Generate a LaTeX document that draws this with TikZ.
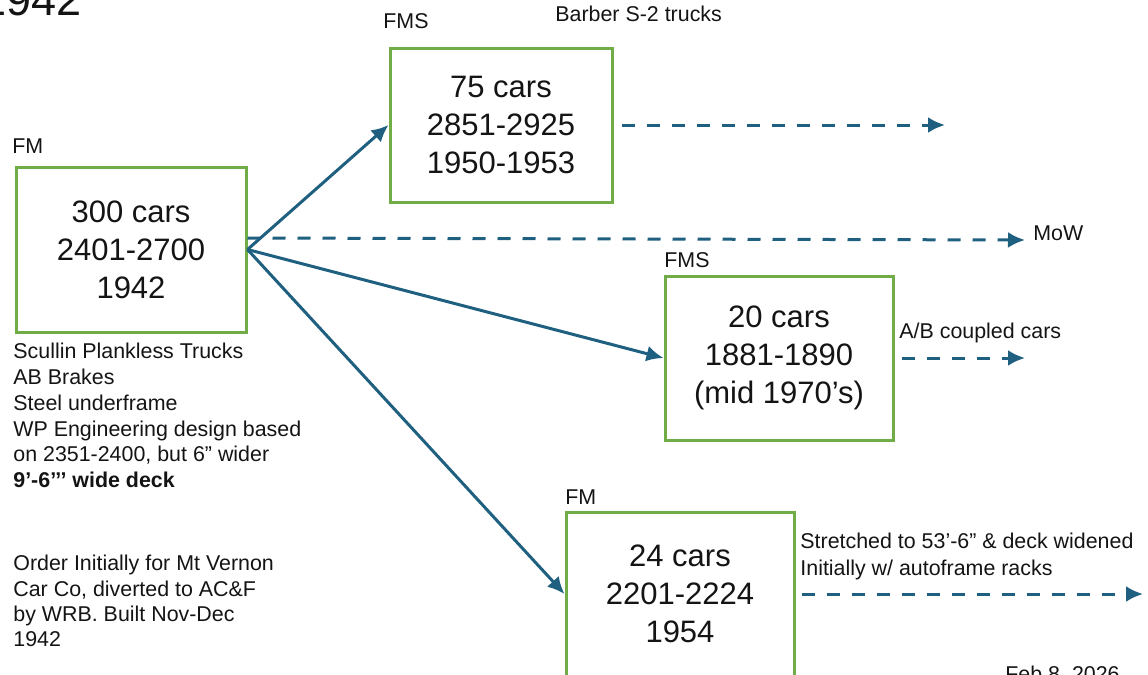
\documentclass[tikz,border=0pt]{standalone}
\usepackage{fontspec}
\setmainfont{Liberation Sans}
\usetikzlibrary{arrows.meta}
\definecolor{boxgreen}{RGB}{112,173,71}
\definecolor{arrowblue}{RGB}{31,96,128}
\definecolor{ink}{RGB}{20,20,20}
\begin{document}
\begin{tikzpicture}[x=0.5pt,y=-0.5pt,
  carbox/.style={draw=boxgreen, line width=1.5pt, align=center, inner sep=0pt, text=ink,
    font=\fontsize{15.5}{19}\selectfont},
  lbl/.style={anchor=base west, inner sep=0pt, text=ink, font=\fontsize{10.7}{12.9}\selectfont},
  flow/.style={draw=arrowblue, line width=1.5pt, -{Latex[length=8.5pt,width=8pt]}},
  dflow/.style={flow, dash pattern=on 6.5pt off 6pt}]
\path[use as bounding box] (0,0) rectangle (1148,675);
\clip (0,0) rectangle (1148,675);

% boxes
\node[carbox, minimum width=115pt, minimum height=82.5pt] (A) at (131,249.5) {300 cars\\2401-2700\\1942};
\node[carbox, minimum width=111pt, minimum height=77pt] (B) at (501,125) {75 cars\\2851-2925\\1950-1953};
\node[carbox, minimum width=114pt, minimum height=82pt] (C) at (779,358) {20 cars\\1881-1890\\(mid 1970’s)};
\node[carbox, minimum width=114pt, minimum height=82pt] (D) at (680,594) {24 cars\\2201-2224\\1954};

% end points
\coordinate (mowend) at (1025,240);
\coordinate (bend) at (945,125);
\coordinate (cend) at (1025,358);
\coordinate (dend) at (1143,594);

% connectors
\draw[flow] (A.east) -- (B.west);
\draw[flow] (A.east) -- (C.west);
\draw[flow] (A.east) -- (D.west);
\draw[dflow] ([yshift=5.75pt]A.east) -- (mowend);
\draw[dflow] ([xshift=4pt]B.east) -- (bend);
\draw[dflow] ([xshift=3.5pt]C.east) -- (cend);
\draw[dflow] ([xshift=3pt]D.east) -- (dend);

% labels
\node[lbl, font=\fontsize{22.5}{26}\selectfont] (title) at (-19,15) {1942};
\node[lbl] (fmA) at (12,153) {FM};
\node[lbl] (fmsB) at (383,28) {FMS};
\node[lbl] (barber) at (555,21) {Barber S-2 trucks};
\node[lbl] (fmsC) at (664,267) {FMS};
\node[lbl] (fmD) at (565,504) {FM};
\node[lbl] (ab) at (899,338) {A/B coupled cars};
\node[lbl] (mow) at (1033,240) {MoW};
\node[lbl] (str1) at (800,548) {Stretched to 53’-6” \& deck widened};
\node[lbl] (str2) at (800,575) {Initially w/ autoframe racks};

\node[lbl] (n1) at (13,358) {Scullin Plankless Trucks};
\node[lbl] (n2) at (13,384) {AB Brakes};
\node[lbl] (n3) at (13,410) {Steel underframe};
\node[lbl] (n4) at (13,436) {WP Engineering design based};
\node[lbl] (n5) at (13,461) {on 2351-2400, but 6” wider};
\node[lbl, font=\fontsize{10.7}{12.9}\selectfont\bfseries] (n6) at (13,487) {9’-6’’’ wide deck};

\node[lbl] (o1) at (13,570) {Order Initially for Mt Vernon};
\node[lbl] (o2) at (13,596) {Car Co, diverted to AC\&F};
\node[lbl] (o3) at (13,621) {by WRB. Built Nov-Dec};
\node[lbl] (o4) at (13,646) {1942};

\node[lbl] (date) at (1005,681.5) {Feb 8, 2026};
\end{tikzpicture}
\end{document}
